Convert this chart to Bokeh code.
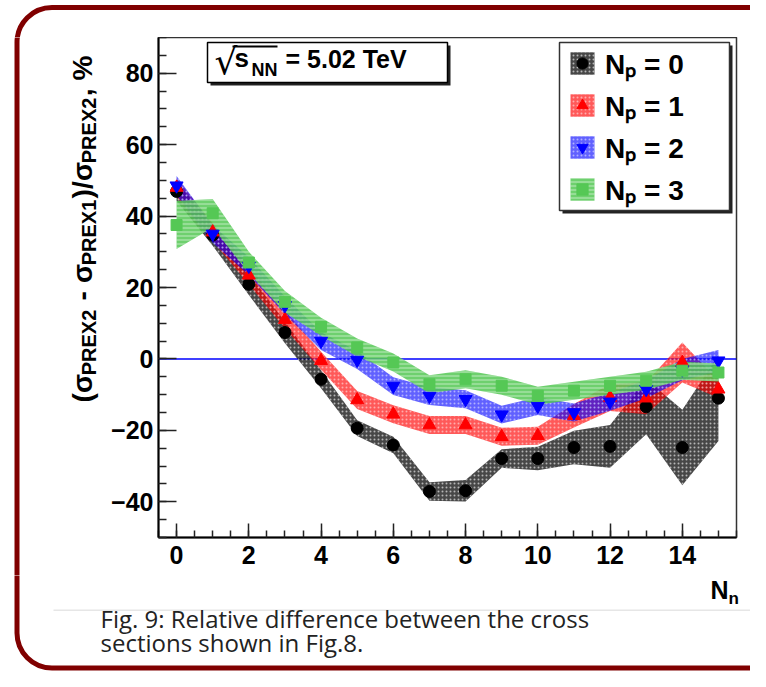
import math
from bokeh.plotting import figure
from bokeh.layouts import column, row
from bokeh.models import (ColumnDataSource, Range1d, SingleIntervalTicker, Span, Label,
                          BoxAnnotation, Legend, LegendItem)
from bokeh.embed import file_html
from bokeh.resources import INLINE

# ---------------- data ----------------
n_n = list(range(16))
x_ticks_interval = 2
y_ticks_interval = 20

np0_val = [46.9, 34.7, 20.9, 7.4, -5.7, -19.4, -24.1, -37.1, -36.9, -27.9, -27.9, -24.8, -24.5, -13.4, -24.8, -11.0]
np0_err = [2.6, 3.0, 3.0, 3.0, 2.5, 2.2, 2.3, 2.6, 3.0, 2.6, 3.3, 4.7, 6.0, 7.7, 10.6, 12.0]

np1_val = [48.0, 35.5, 23.4, 11.0, -0.5, -11.5, -15.5, -18.5, -18.5, -21.8, -21.5, -15.9, -10.8, -11.0, -1.0, -8.5]
np1_err = [2.5, 2.5, 2.5, 2.5, 2.5, 2.5, 2.5, 2.5, 2.5, 2.5, 2.5, 3.3, 3.8, 4.5, 5.6, 2.4]

np2_val = [48.5, 35.0, 26.0, 15.0, 5.0, -0.3, -7.6, -10.4, -11.3, -15.6, -13.2, -15.0, -12.0, -8.5, -3.0, -0.5]
np2_err = [2.7, 2.5, 2.5, 2.5, 2.5, 2.5, 2.5, 2.5, 2.5, 2.5, 2.5, 2.5, 2.5, 2.5, 3.0, 3.0]

np3_val = [37.5, 40.8, 27.0, 16.0, 9.0, 3.2, -1.0, -7.1, -5.7, -7.5, -10.3, -8.9, -7.5, -6.1, -3.3, -3.8]
np3_err = [6.7, 4.0, 3.0, 3.0, 2.5, 2.5, 2.5, 2.5, 2.5, 2.5, 2.5, 2.5, 2.5, 2.5, 2.5, 2.5]

series_labels = ["N\u209a = 0", "N\u209a = 1", "N\u209a = 2", "N\u209a = 3"]

# ---------------- layout geometry (image pixels) ----------------
W, H = 750, 671
TOP_H = 37            # strip above the plot frame
MID_H = 538           # row with y-title strip + main plot
BOT_H = H - TOP_H - MID_H
LEFT_W = 100
FL, FR, FT, FB = 158, 736, 37, 537
X_LO, X_HI, Y_LO, Y_HI = -0.5, 15.5, -50, 90

CARD = dict(left=16.5, right=800, top=7, bottom=667.5, radius=35, color="#800000", width=5)
FONT = "Liberation Sans"


def dx(px):
    return X_LO + (px - FL) * (X_HI - X_LO) / (FR - FL)


def dy(py):
    return Y_HI - (py - FT) * (Y_HI - Y_LO) / (FB - FT)


def panel(w, h, x0, y0):
    """A plain figure whose frame is the whole canvas; data units = pixels."""
    f = figure(width=w, height=h, x_range=Range1d(0, w), y_range=Range1d(0, h),
               x_axis_type=None, y_axis_type=None, output_backend="svg", toolbar_location=None,
               min_border=0, frame_align=False)
    f.xgrid.visible = False
    f.ygrid.visible = False
    f.outline_line_color = None
    f.background_fill_color = "white"
    f.border_fill_color = "white"
    conv_x = lambda px: px - x0
    conv_y = lambda py: h - (py - y0)
    f.quad(left=[conv_x(CARD["left"])], right=[conv_x(CARD["right"])],
           top=[conv_y(CARD["top"])], bottom=[conv_y(CARD["bottom"])],
           fill_alpha=0, line_color=CARD["color"], line_alpha=1, line_width=CARD["width"],
           border_radius=CARD["radius"])
    return f, conv_x, conv_y


# ---------------- top strip ----------------
top_fig, tx, ty = panel(W, TOP_H, 0, 0)

# ---------------- left strip: y title ----------------
left_fig, lx, ly = panel(LEFT_W, MID_H, 0, TOP_H)
M, S = 28, 20
EM = {"(": .333, ")": .333, "/": .278, " ": .278, "-": .333, ",": .278, "%": .889,
      "\u03c3": .62, "P": .667, "R": .722, "E": .667, "X": .667, "1": .556, "2": .556}
pieces = [("(", M), ("\u03c3", M), ("PREX2", S), (" ", M), ("-", M), (" ", M), ("\u03c3", M),
          ("PREX1", S), (")/", M), ("\u03c3", M), ("PREX2", S), (",", M), (" ", M), ("%", M)]
track = 1.02
ypos = 402.0
for t, sz in pieces:
    w = sum(EM[c] for c in t) * sz * track
    if t.strip():
        bx = 82 if sz == M else 88
        left_fig.add_layout(Label(x=lx(bx), y=ly(ypos), text=t, angle=math.pi / 2, text_align="left",
                                  text_baseline="alphabetic", text_font=FONT, text_font_style="bold",
                                  text_font_size=f"{sz}px", text_color="black"))
    ypos -= w

# ---------------- main plot ----------------
p = figure(width=W - LEFT_W, height=MID_H, x_range=Range1d(X_LO, X_HI), y_range=Range1d(Y_LO, Y_HI),
           output_backend="svg", toolbar_location=None, frame_align=False,
           min_border_left=FL - LEFT_W, min_border_right=W - FR,
           min_border_top=FT - TOP_H, min_border_bottom=TOP_H + MID_H - FB)
p.xgrid.visible = False
p.ygrid.visible = False
p.background_fill_color = "white"
p.border_fill_color = "white"
p.outline_line_color = "#333333"
p.outline_line_width = 1.5

for ax in (p.xaxis[0], p.yaxis[0]):
    ax.axis_line_color = "black"
    ax.axis_line_width = 2
    ax.major_tick_line_color = "#222222"
    ax.minor_tick_line_color = "#222222"
    ax.major_tick_line_width = 1.5
    ax.minor_tick_line_width = 1.5
    ax.major_tick_out = 0
    ax.minor_tick_out = 0
    ax.major_label_text_font = FONT
    ax.major_label_text_font_style = "bold"
    ax.major_label_text_font_size = "25px"
    ax.major_label_text_color = "black"

p.xaxis.ticker = SingleIntervalTicker(interval=x_ticks_interval, num_minor_ticks=4)
p.yaxis.ticker = SingleIntervalTicker(interval=y_ticks_interval, num_minor_ticks=4)
p.xaxis.major_tick_in = 14
p.xaxis.minor_tick_in = 7
p.yaxis.major_tick_in = 18
p.yaxis.minor_tick_in = 8
p.xaxis.major_label_standoff = 8
p.yaxis.major_label_standoff = 5
p.yaxis.major_label_overrides = {-40: "\u221240", -20: "\u221220"}

p.add_layout(Span(location=0, dimension="width", line_color="#0000ff", line_width=1.5, level="underlay"))

styles = [
    dict(val=np0_val, err=np0_err, color="#000000", marker="circle", size=12,
         band=dict(fill_color="#000000", fill_alpha=0.72, hatch_pattern="dot", hatch_color="white",
                   hatch_alpha=0.6, hatch_scale=4)),
    dict(val=np1_val, err=np1_err, color="#ff0000", marker="triangle", size=13,
         band=dict(fill_color="#ff0000", fill_alpha=0.65, hatch_pattern="dot", hatch_color="white",
                   hatch_alpha=0.5, hatch_scale=4)),
    dict(val=np2_val, err=np2_err, color="#0000ff", marker="inverted_triangle", size=13,
         band=dict(fill_color="#0000ff", fill_alpha=0.62, hatch_pattern="dot", hatch_color="white",
                   hatch_alpha=0.5, hatch_scale=4)),
    dict(val=np3_val, err=np3_err, color="#55c855", marker="square", size=11,
         band=dict(fill_color="#55c855", fill_alpha=0.85, hatch_pattern="horizontal_line",
                   hatch_color="white", hatch_alpha=0.55, hatch_scale=4, hatch_weight=1)),
]

bands, lines, marks, sources = [], [], [], []
for s in styles:
    lo = [v - e for v, e in zip(s["val"], s["err"])]
    hi = [v + e for v, e in zip(s["val"], s["err"])]
    src = ColumnDataSource(dict(x=n_n, y=s["val"], lo=lo, hi=hi))
    sources.append(src)
    bands.append(p.varea(x="x", y1="lo", y2="hi", source=src, **s["band"]))
for s in styles:
    lines.append(p.line(x=[], y=[], line_color="black", line_width=3))
for s, src in zip(styles, sources):
    marks.append(p.scatter(x="x", y="y", source=src, marker=s["marker"], size=s["size"],
                           fill_color=s["color"], line_color=s["color"]))

# title box with shadow
p.add_layout(BoxAnnotation(left=dx(210), right=dx(450), top=dy(45), bottom=dy(85),
                           fill_color="#222222", fill_alpha=1, line_alpha=0))
p.add_layout(BoxAnnotation(left=dx(207), right=dx(447), top=dy(42), bottom=dy(82),
                           fill_color="white", fill_alpha=1, line_color="black", line_alpha=1,
                           line_width=1.5))
p.add_layout(Label(x=dx(214), y=dy(81), text="\u221a", text_font="DejaVu Sans",
                   text_font_size="36px", text_color="black"))
p.add_layout(BoxAnnotation(left=dx(232), right=dx(277), top=dy(45), bottom=dy(47),
                           fill_color="black", fill_alpha=1, line_alpha=0))
p.add_layout(Label(x=dx(234), y=dy(72), text="s", text_font=FONT, text_font_style="bold",
                   text_font_size="26px", text_color="black"))
p.add_layout(Label(x=dx(251), y=dy(79), text="NN", text_font=FONT, text_font_style="bold",
                   text_font_size="18px", text_color="black"))
p.add_layout(Label(x=dx(285), y=dy(72), text="= 5.02 TeV", text_font=FONT, text_font_style="bold",
                   text_font_size="25px", text_color="black"))

# legend box with shadow
p.add_layout(BoxAnnotation(left=dx(562), right=dx(732), top=dy(45), bottom=dy(213),
                           fill_color="#222222", fill_alpha=1, line_alpha=0))
p.add_layout(BoxAnnotation(left=dx(559), right=dx(729), top=dy(42), bottom=dy(210),
                           fill_color="white", fill_alpha=1, line_color="#333333", line_alpha=1,
                           line_width=1.5))
items = [LegendItem(label=lab, renderers=[b, l, m]) for lab, b, l, m in zip(series_labels, bands, lines, marks)]
legend = Legend(items=items, location="top_right", margin=6, padding=1, spacing=4,
                glyph_width=30, glyph_height=28, label_height=28, label_width=124, label_standoff=8,
                label_text_font=FONT, label_text_font_style="bold", label_text_font_size="28px",
                label_text_color="black", border_line_alpha=0, background_fill_alpha=0)
p.add_layout(legend)

# ---------------- bottom strip: x title, separator, caption ----------------
bot_fig, bx_, by_ = panel(W, BOT_H, 0, TOP_H + MID_H)
bot_fig.add_layout(Label(x=bx_(728), y=by_(603), text="N", text_align="right", text_font=FONT,
                         text_font_style="bold", text_font_size="25px", text_color="black"))
bot_fig.add_layout(Label(x=bx_(728), y=by_(607), text="n", text_font=FONT,
                         text_font_style="bold", text_font_size="17px", text_color="black"))
bot_fig.add_layout(BoxAnnotation(left=bx_(53), right=bx_(752), top=by_(609), bottom=by_(610.5),
                                 fill_color="#e6e6e6", fill_alpha=1, line_alpha=0))
bot_fig.add_layout(Label(x=bx_(100), y=by_(634), text="Fig. 9: Relative difference between the cross",
                         text_font="Open Sans", text_font_size="24px", text_color="#222222"))
bot_fig.add_layout(Label(x=bx_(100), y=by_(658), text="sections shown in Fig.8.",
                         text_font="Open Sans", text_font_size="24px", text_color="#222222"))

layout = column(top_fig, row(left_fig, p), bot_fig)
open("out.html", "w").write(file_html(layout, INLINE))
